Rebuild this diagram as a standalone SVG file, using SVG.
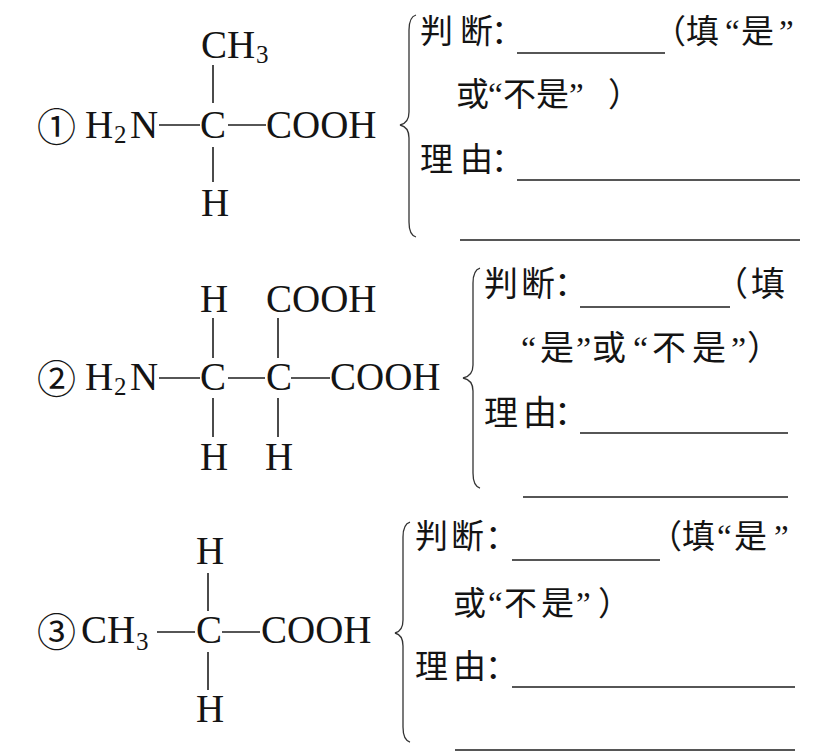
<svg xmlns="http://www.w3.org/2000/svg" width="823" height="755" viewBox="0 0 823 755">
<style>
.chem{font-family:"Liberation Serif",serif;font-size:39px;fill:#141414}
.sub{font-size:25px}
.num{font-family:"Noto Sans CJK SC",sans-serif;font-size:39px;fill:#141414}
.cjk{font-family:"Liberation Serif","Noto Sans CJK SC",sans-serif;font-size:33px;fill:#141414}
.cjk2{font-family:"Liberation Serif","Noto Sans CJK SC",sans-serif;font-size:34px;fill:#141414}
.bond{stroke:#1e1e1e;stroke-width:1.6;fill:none}
.blank{stroke:#1e1e1e;stroke-width:1.5;fill:none}
.brace{stroke:#333;stroke-width:1.3;fill:none}
</style>
<rect width="823" height="755" fill="#fff"/>

<g id="molecule1">
  <text class="num" x="37" y="141">①</text>
  <text class="chem" x="201" y="58">CH<tspan class="sub" x="256" y="63">3</tspan></text>
  <text class="chem" x="85" y="138">H<tspan class="sub" x="114" y="143">2</tspan><tspan x="130" y="138">N</tspan></text>
  <text class="chem" x="200" y="138">C</text>
  <text class="chem" x="266" y="138">COOH</text>
  <text class="chem" x="201" y="216">H</text>
</g>
<g id="molecule2">
  <text class="num" x="37" y="393">②</text>
  <text class="chem" x="200" y="312">H</text>
  <text class="chem" x="266" y="312">COOH</text>
  <text class="chem" x="85" y="390">H<tspan class="sub" x="114" y="395">2</tspan><tspan x="130" y="390">N</tspan></text>
  <text class="chem" x="200" y="390">C</text>
  <text class="chem" x="266" y="390">C</text>
  <text class="chem" x="330" y="390">COOH</text>
  <text class="chem" x="200" y="470">H</text>
  <text class="chem" x="265" y="470">H</text>
</g>
<g id="molecule3">
  <text class="num" x="37" y="646">③</text>
  <text class="chem" x="196" y="564">H</text>
  <text class="chem" x="81" y="643">CH<tspan class="sub" x="136" y="650">3</tspan></text>
  <text class="chem" x="196" y="643">C</text>
  <text class="chem" x="261" y="643">COOH</text>
  <text class="chem" x="196" y="722">H</text>
</g>

<g id="connectors">
  <line class="bond" x1="213" y1="65" x2="213" y2="103"/>
  <line class="bond" x1="213" y1="147" x2="213" y2="182"/>
  <line class="bond" x1="159" y1="125" x2="200" y2="125"/>
  <line class="bond" x1="228" y1="125" x2="266" y2="125"/>

  <line class="bond" x1="213" y1="318" x2="213" y2="358"/>
  <line class="bond" x1="278" y1="318" x2="278" y2="358"/>
  <line class="bond" x1="213" y1="398" x2="213" y2="437"/>
  <line class="bond" x1="278" y1="398" x2="278" y2="437"/>
  <line class="bond" x1="159" y1="378" x2="200" y2="378"/>
  <line class="bond" x1="228" y1="378" x2="265" y2="378"/>
  <line class="bond" x1="291" y1="378" x2="330" y2="378"/>

  <line class="bond" x1="208" y1="573" x2="208" y2="611"/>
  <line class="bond" x1="208" y1="652" x2="208" y2="690"/>
  <line class="bond" x1="157" y1="632" x2="195" y2="632"/>
  <line class="bond" x1="222" y1="632" x2="260" y2="632"/>
</g>

<g id="answer1">
  <path class="brace" d="M416,15 Q409,17 409,30 L409,112 Q409,123 400,125 Q409,127 409,138 L409,222 Q409,235 416,237"/>
  <text class="cjk" y="43"><tspan x="420">判</tspan><tspan x="460">断</tspan><tspan x="491">：</tspan></text>
  <line class="blank" x1="517" y1="53" x2="665" y2="53"/>
  <text class="cjk" y="43"><tspan x="653">（</tspan><tspan x="686">填</tspan><tspan x="725">“</tspan><tspan x="741">是</tspan><tspan x="779">”</tspan></text>
  <text class="cjk" y="106"><tspan x="456">或</tspan><tspan x="488">“</tspan><tspan x="503">不</tspan><tspan x="536">是</tspan><tspan x="569">”</tspan><tspan x="608">）</tspan></text>
  <text class="cjk" y="171"><tspan x="420">理</tspan><tspan x="460">由</tspan><tspan x="491">：</tspan></text>
  <line class="blank" x1="517" y1="180" x2="800" y2="180"/>
  <line class="blank" x1="460" y1="240" x2="800" y2="240"/>
</g>

<g id="answer2">
  <path class="brace" d="M480,268 Q473,270 473,283 L473,365 Q473,376 463,378 Q473,380 473,391 L473,473 Q473,486 480,488"/>
  <text class="cjk2" y="296"><tspan x="484">判</tspan><tspan x="521">断</tspan><tspan x="554">：</tspan></text>
  <line class="blank" x1="580" y1="307" x2="730" y2="307"/>
  <text class="cjk2" y="296"><tspan x="714">（</tspan><tspan x="751">填</tspan></text>
  <text class="cjk2" y="360"><tspan x="521">“</tspan><tspan x="540">是</tspan><tspan x="576">”</tspan><tspan x="592">或</tspan><tspan x="633">“</tspan><tspan x="652">不</tspan><tspan x="692">是</tspan><tspan x="731">”</tspan><tspan x="747">）</tspan></text>
  <text class="cjk2" y="425"><tspan x="484">理</tspan><tspan x="523">由</tspan><tspan x="554">：</tspan></text>
  <line class="blank" x1="580" y1="433" x2="788" y2="433"/>
  <line class="blank" x1="523" y1="497" x2="788" y2="497"/>
</g>

<g id="answer3">
  <path class="brace" d="M410,522 Q403,524 403,537 L403,620 Q403,631 395,633 Q403,635 403,646 L403,727 Q403,740 410,742"/>
  <text class="cjk" y="548"><tspan x="415">判</tspan><tspan x="451">断</tspan><tspan x="485">：</tspan></text>
  <line class="blank" x1="512" y1="560" x2="660" y2="560"/>
  <text class="cjk" y="548"><tspan x="649">（</tspan><tspan x="682">填</tspan><tspan x="717">“</tspan><tspan x="734">是</tspan><tspan x="774">”</tspan></text>
  <text class="cjk" y="615"><tspan x="453">或</tspan><tspan x="488">“</tspan><tspan x="504">不</tspan><tspan x="541">是</tspan><tspan x="576">”</tspan><tspan x="598">）</tspan></text>
  <text class="cjk" y="678"><tspan x="415">理</tspan><tspan x="453">由</tspan><tspan x="485">：</tspan></text>
  <line class="blank" x1="512" y1="687" x2="795" y2="687"/>
  <line class="blank" x1="455" y1="750" x2="795" y2="750"/>
</g>
</svg>
